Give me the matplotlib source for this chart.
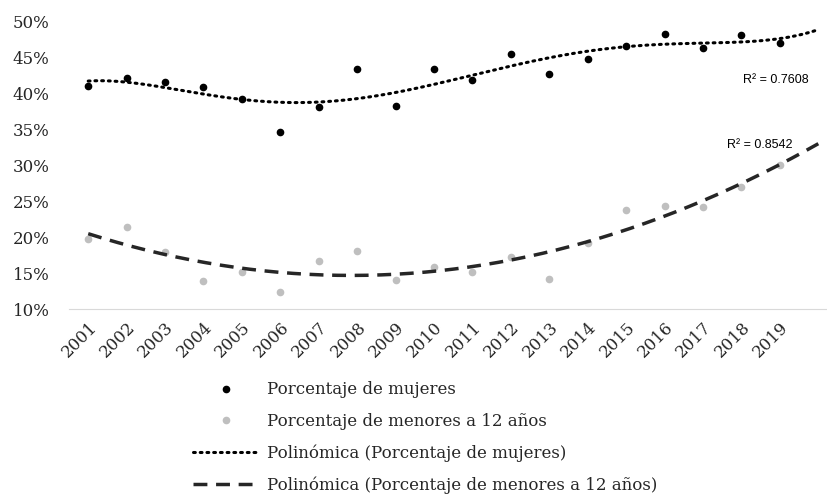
import numpy as np
import matplotlib
matplotlib.use('Agg')
import matplotlib.pyplot as plt
from matplotlib.ticker import FuncFormatter

# --- datos (porcentajes) ---
years = ['2001', '2002', '2003', '2004', '2005', '2006', '2007', '2008', '2009', '2010',
         '2011', '2012', '2013', '2014', '2015', '2016', '2017', '2018', '2019']
mujeres = [41.1, 42.2, 41.6, 40.9, 39.3, 34.7, 38.1, 43.5, 38.3, 43.4,
           41.9, 45.6, 42.7, 44.8, 46.6, 48.3, 46.4, 48.2, 47.1]
menores = [19.8, 21.4, 18.0, 13.9, 15.2, 12.3, 16.7, 18.1, 14.1, 15.9,
           15.2, 17.3, 14.2, 19.2, 23.8, 24.4, 24.2, 27.0, 30.0]
r2_mujeres = 'R² = 0.7608'
r2_menores = 'R² = 0.8542'

plt.rcParams['font.family'] = ['DejaVu Serif']
plt.rcParams['font.size'] = 12

fig = plt.figure(figsize=(8.28, 4.94), dpi=100)
ax = fig.add_axes([69 / 828, 1 - 309 / 494, (826 - 69) / 828, 287 / 494])

x = np.arange(len(years))
p1, = ax.plot(x, mujeres, 'o', color='black', markersize=4.5, label='Porcentaje de mujeres')
p2, = ax.plot(x, menores, 'o', color='#BFBFBF', markersize=4.5, label='Porcentaje de menores a 12 años')

# líneas de tendencia polinómicas (pronóstico 1 período hacia adelante)
xf = np.linspace(0, len(years), 300)
c1 = np.polyfit(x + 1, mujeres, 5)
c2 = np.polyfit(x + 1, menores, 2)
t1, = ax.plot(xf, np.polyval(c1, xf + 1), color='black', linewidth=2.2,
              linestyle=(0, (0.6, 1.6)), dash_capstyle='round',
              label='Polinómica (Porcentaje de mujeres)')
t2, = ax.plot(xf, np.polyval(c2, xf + 1), color='#262626', linewidth=2.5,
              linestyle=(0, (4, 2.5)), label='Polinómica (Porcentaje de menores a 12 años)')

ax.text(18.75, 41.9, r2_mujeres, family='Liberation Sans', fontsize=9, ha='right', va='center')
ax.text(18.34, 32.9, r2_menores, family='Liberation Sans', fontsize=9, ha='right', va='center')

ax.set_xlim(-0.5, 19.2)
ax.set_ylim(10, 50)
ax.set_yticks(np.arange(10, 51, 5))
ax.yaxis.set_major_formatter(FuncFormatter(lambda v, p: f'{v:.0f}%'))
ax.set_xticks(x)
ax.set_xticklabels(years, rotation=45, ha='right', rotation_mode='anchor')
ax.tick_params(length=0)
ax.tick_params(axis='y', pad=14, labelcolor='#262626')
ax.tick_params(axis='x', pad=7, labelcolor='#262626')
for s in ['top', 'right', 'left']:
    ax.spines[s].set_visible(False)
ax.spines['bottom'].set_color('#D9D9D9')

fig.legend(handles=[p1, p2, t1, t2], loc='upper left', bbox_to_anchor=(185 / 828, 1 - 373 / 494),
           frameon=False, handlelength=3.95, handletextpad=0.48, labelspacing=0.87,
           borderpad=0, fontsize=12, labelcolor='#262626')

fig.savefig('out.png', dpi=100)
